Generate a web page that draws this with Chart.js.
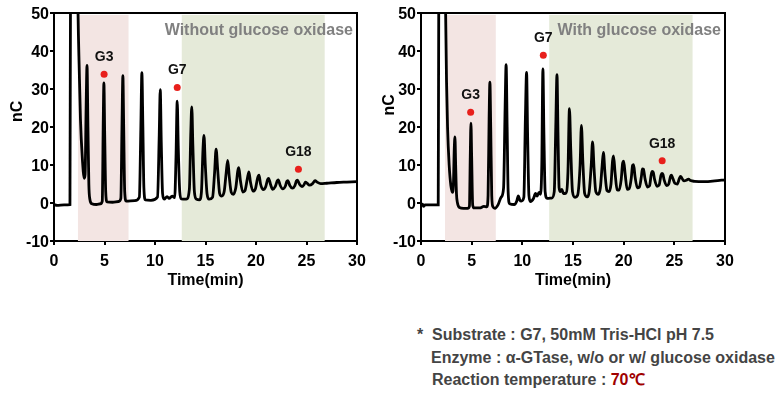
<!DOCTYPE html>
<html>
<head>
<meta charset="utf-8">
<script src="https://cdn.jsdelivr.net/npm/chart.js@4"></script>
<style>
  body { margin: 0; background: #fff; width: 782px; height: 400px; position: relative; overflow: hidden;
         font-family: "Liberation Sans", Arial, sans-serif; }
  .panel { position: absolute; top: 0; width: 370px; height: 300px; }
  .note { position: absolute; font-weight: bold; font-size: 16px; line-height: 20px; color: #444; white-space: pre; }
  .hot { color: #a00000; }
</style>
</head>
<body>
<div class="panel" style="left:0"><canvas id="leftChart" width="370" height="300"></canvas></div>
<div class="panel" style="left:370px"><canvas id="rightChart" width="370" height="300"></canvas></div>

<div class="note" style="left:417px; top:325px">*  Substrate : G7, 50mM Tris-HCl pH 7.5</div>
<div class="note" style="left:431px; top:348px">Enzyme : α-GTase, w/o or w/ glucose oxidase</div>
<div class="note" style="left:432px; top:370px">Reaction temperature : <span class="hot">70℃</span></div>

<script>
// chromatogram traces, [time (min), signal (nC)]
var leftTrace = [
  [0, -0.4], [0.3, -0.6], [1.0, -0.5], [1.58, -0.4], [1.64, 60], [2.3, 70], [2.38, 50], [2.5, 35],
  [2.62, 22], [2.8, 12], [3.0, 6.5], [3.08, 7.5], [3.18, 25], [3.27, 36.2], [3.36, 20], [3.45, 5],
  [3.55, 1], [3.75, -0.2], [4.2, -0.4], [4.6, -0.2], [4.78, 0.5], [4.87, 20], [4.94, 31.6], [5.02, 18],
  [5.12, 3], [5.25, 0.3], [5.8, 0.2], [6.4, 0.4], [6.62, 1.2], [6.73, 20], [6.82, 33.5], [6.9, 20],
  [7.0, 3], [7.15, 0.5], [8.0, 0.6], [8.45, 1.5], [8.6, 20], [8.7, 34.3], [8.8, 20], [8.9, 4],
  [9.05, 0.8], [9.6, 0.7], [10.25, 1.6], [10.42, 18], [10.52, 29.8], [10.62, 16], [10.75, 2.5], [10.9, 1.0],
  [11.2, 1.7], [11.4, 1.2], [11.7, 1.8], [11.95, 1.4], [12.08, 12], [12.2, 26.8], [12.3, 15], [12.45, 3],
  [12.6, 1.1], [13.1, 1.0], [13.4, 3.5], [13.55, 19], [13.64, 25.3], [13.75, 15], [13.9, 3], [14.1, 1.0],
  [14.4, 0.8], [14.6, 3], [14.75, 14], [14.85, 17.8], [14.98, 10], [15.15, 2.5], [15.35, 1.0], [15.7, 1.5],
  [15.9, 8], [16.05, 14.2], [16.2, 9], [16.4, 2.5], [16.6, 1.8], [16.85, 3], [17.05, 8], [17.2, 11.2],
  [17.35, 7], [17.55, 2.8], [17.75, 2.3], [18.0, 4], [18.2, 8.5], [18.3, 9.3], [18.45, 6], [18.7, 2.9],
  [18.9, 3.2], [19.15, 6.5], [19.3, 8.2], [19.45, 5.5], [19.7, 3.1], [19.95, 3.8], [20.15, 6.5], [20.3, 7.3],
  [20.45, 5], [20.7, 3.5], [20.95, 4.2], [21.15, 6.2], [21.25, 6.5], [21.45, 4.8], [21.65, 3.6], [21.9, 4.3],
  [22.1, 5.8], [22.2, 6.1], [22.4, 4.6], [22.65, 3.7], [22.9, 4.4], [23.05, 5.7], [23.15, 5.9], [23.35, 4.6],
  [23.6, 3.9], [23.85, 4.6], [24.0, 5.8], [24.1, 6.0], [24.3, 5.0], [24.55, 4.3], [24.75, 4.8], [24.9, 5.5],
  [25.05, 5.2], [25.3, 4.7], [25.6, 5.1], [25.85, 5.9], [26.05, 5.5], [26.4, 5.1], [27, 5.2], [28, 5.4],
  [29, 5.5], [30, 5.6]
];

var rightTrace = [
  [0, -0.6], [0.15, -0.3], [0.25, -0.9], [0.4, -0.5], [1.0, -0.5], [1.7, -0.5], [1.76, 60], [2.35, 70],
  [2.43, 50], [2.52, 32], [2.62, 20], [2.78, 10], [2.95, 4.5], [3.1, 2.8], [3.2, 5], [3.28, 14],
  [3.35, 17.4], [3.42, 10], [3.5, 2.5], [3.6, 0], [3.8, -1.2], [4.2, -1.4], [4.6, -1.4], [4.78, -0.8],
  [4.86, 12], [4.93, 21.0], [5.0, 12], [5.1, -0.5], [5.25, -1.3], [5.8, -1.3], [6.2, -0.9], [6.5, -1.0],
  [6.62, 2], [6.72, 22], [6.8, 31.8], [6.88, 20], [6.98, 2], [7.1, -1.0], [7.3, -1.4], [7.6, -0.5],
  [7.9, 1.5], [8.15, 4], [8.3, 25], [8.4, 36.4], [8.5, 20], [8.6, 3], [8.75, -0.2], [9.2, -0.4],
  [9.45, 0.5], [9.6, 1.9], [9.75, 0.8], [9.9, 0.5], [10.15, 1.5], [10.3, 22], [10.42, 34.4], [10.52, 18],
  [10.65, 2], [10.8, 0.4], [11.1, 1.2], [11.3, 2.5], [11.45, 1.8], [11.65, 2.8], [11.8, 2.3], [11.92, 10],
  [12.03, 35.3], [12.13, 18], [12.25, 3], [12.45, 1.2], [12.9, 1.3], [13.15, 3], [13.3, 20], [13.42, 33.8],
  [13.52, 18], [13.63, 4], [13.75, 3], [13.9, 3.6], [14.05, 2.5], [14.3, 2.6], [14.5, 8], [14.65, 24.8],
  [14.78, 14], [14.95, 3], [15.2, 1.5], [15.45, 2], [15.7, 10], [15.83, 20.4], [15.97, 11], [16.15, 2.5],
  [16.4, 1.6], [16.6, 3], [16.8, 10], [16.93, 16.1], [17.08, 9], [17.25, 3], [17.5, 2.3], [17.7, 4],
  [17.88, 10], [18.0, 13.3], [18.15, 8], [18.35, 3.3], [18.55, 3], [18.75, 5], [18.9, 11], [19.0, 12.4],
  [19.15, 8], [19.35, 3.5], [19.55, 3.4], [19.75, 6], [19.9, 10.5], [20.0, 11.0], [20.15, 7.5], [20.35, 3.6],
  [20.55, 3.8], [20.75, 6.5], [20.88, 9.9], [20.98, 10.1], [21.12, 7], [21.35, 4], [21.55, 4.2], [21.75, 7],
  [21.85, 9.0], [21.95, 8.9], [22.1, 6.5], [22.35, 4.2], [22.55, 4.5], [22.72, 7.5], [22.82, 8.3], [22.92, 8.1],
  [23.05, 6.2], [23.3, 4.4], [23.5, 4.7], [23.68, 7.3], [23.78, 7.8], [23.88, 7.5], [24.0, 6], [24.25, 4.6],
  [24.45, 5.0], [24.62, 7.0], [24.72, 7.3], [24.85, 6.5], [25.05, 5.2], [25.3, 5.0], [25.5, 6.5], [25.62, 7.0],
  [25.75, 6.5], [25.95, 5.8], [26.2, 6.0], [26.4, 6.3], [26.6, 5.9], [27, 5.7], [28, 5.6], [29, 5.8],
  [30, 6.1]
];

// red markers over the G3 / G7 / G18 peaks
var markLabels = ['G3', 'G7', 'G18'];
var leftMarkTime = [4.96, 12.2, 24.2];
var leftMarkNC = [33.9, 30.4, 8.9];
var rightMarkTime = [4.9, 12.07, 23.8];
var rightMarkNC = [23.9, 38.9, 11.1];

// shaded time windows (min) and their colours
var bandStart = [2.37, 12.65];
var bandEnd = [7.38, 26.8];
var bandColors = ['#f3e5e3', '#e5ead9'];
var bandTop = 49.5;

var panelTitles = ['Without glucose oxidase', 'With glucose oxidase'];

var tickFont = { family: 'Liberation Sans', size: 16, weight: 'bold' };

function makeChart(canvasId, trace, markTime, markNC, title, axisWidth, padRight, titleGap, nCLabel) {
  var marks = markTime.map(function (t, i) { return { x: t, y: markNC[i] }; });

  // shaded windows behind the trace
  var bandsPlugin = {
    id: 'bands',
    beforeDatasetsDraw: function (chart) {
      var ctx = chart.ctx, x = chart.scales.x, y = chart.scales.y;
      ctx.save();
      bandStart.forEach(function (s, i) {
        var x0 = x.getPixelForValue(s), x1 = x.getPixelForValue(bandEnd[i]);
        var y0 = y.getPixelForValue(bandTop), y1 = y.getPixelForValue(-10);
        ctx.fillStyle = bandColors[i];
        ctx.fillRect(x0, y0, x1 - x0, y1 - y0);
      });
      ctx.restore();
    }
  };

  // box frame, peak labels and panel title
  var extrasPlugin = {
    id: 'extras',
    afterDatasetsDraw: function (chart) {
      var ctx = chart.ctx, a = chart.chartArea, x = chart.scales.x, y = chart.scales.y;
      ctx.save();
      ctx.strokeStyle = '#000';
      ctx.lineWidth = 2;
      ctx.beginPath();
      ctx.moveTo(a.left, a.top);
      ctx.lineTo(a.right, a.top);
      ctx.lineTo(a.right, a.bottom);
      ctx.stroke();

      ctx.fillStyle = '#111';
      ctx.font = 'bold 14px "Liberation Sans"';
      ctx.textAlign = 'center';
      ctx.textBaseline = 'middle';
      markLabels.forEach(function (lab, i) {
        ctx.fillText(lab, x.getPixelForValue(markTime[i]), y.getPixelForValue(markNC[i]) - 17);
      });

      ctx.fillStyle = '#808080';
      ctx.font = 'bold 16px "Liberation Sans"';
      ctx.textAlign = 'right';
      ctx.fillText(title, a.right - 4, a.top + 18);
      ctx.restore();
    }
  };

  var ctx = document.getElementById(canvasId).getContext('2d');
  return new Chart(ctx, {
    type: 'line',
    data: {
      datasets: [
        {
          data: marks,
          showLine: false,
          pointRadius: 3.5,
          pointBackgroundColor: '#e8201c',
          pointBorderWidth: 0,
          order: 0
        },
        {
          data: trace.map(function (p) { return { x: p[0], y: p[1] }; }),
          borderColor: '#000',
          borderWidth: 2.8,
          pointRadius: 0,
          cubicInterpolationMode: 'monotone',
          fill: false,
          order: 1
        }
      ]
    },
    options: {
      responsive: false,
      animation: false,
      events: [],
      layout: { padding: { top: 13, right: padRight, left: 0, bottom: 0 } },
      plugins: { legend: { display: false }, tooltip: { enabled: false } },
      scales: {
        x: {
          type: 'linear',
          min: 0,
          max: 30,
          // fixed axis height; the layout padding already leaves room for the "30"
          afterFit: function (s) { s.height = 59; s.paddingLeft = 0; s.paddingRight = 0; },
          ticks: { stepSize: 5, color: '#000', font: tickFont, padding: 7, maxRotation: 0 },
          grid: { drawOnChartArea: false, tickLength: 4, color: '#000', lineWidth: 2 },
          border: { color: '#000', width: 2 },
          title: { display: true, text: 'Time(min)', color: '#000', font: tickFont, padding: { top: 0, bottom: 10 } }
        },
        y: {
          min: -10,
          max: 50,
          afterFit: function (s) { s.width = axisWidth; },
          ticks: { stepSize: 10, color: '#000', font: tickFont, padding: 1, labelOffset: 2 },
          grid: { drawOnChartArea: false, tickLength: 4, color: '#000', lineWidth: 2 },
          border: { color: '#000', width: 2 },
          title: { display: true, text: nCLabel, color: '#000', font: tickFont, padding: { top: titleGap, bottom: 0 } }
        }
      }
    },
    plugins: [bandsPlugin, extrasPlugin]
  });
}

// left panel: without glucose oxidase
makeChart('leftChart', leftTrace, leftMarkTime, leftMarkNC, panelTitles[0], 54, 13, 8, '       nC');

// right panel: with glucose oxidase
makeChart('rightChart', rightTrace, rightMarkTime, rightMarkNC, panelTitles[1], 51, 15, 10, '          nC');
</script>
</body>
</html>
